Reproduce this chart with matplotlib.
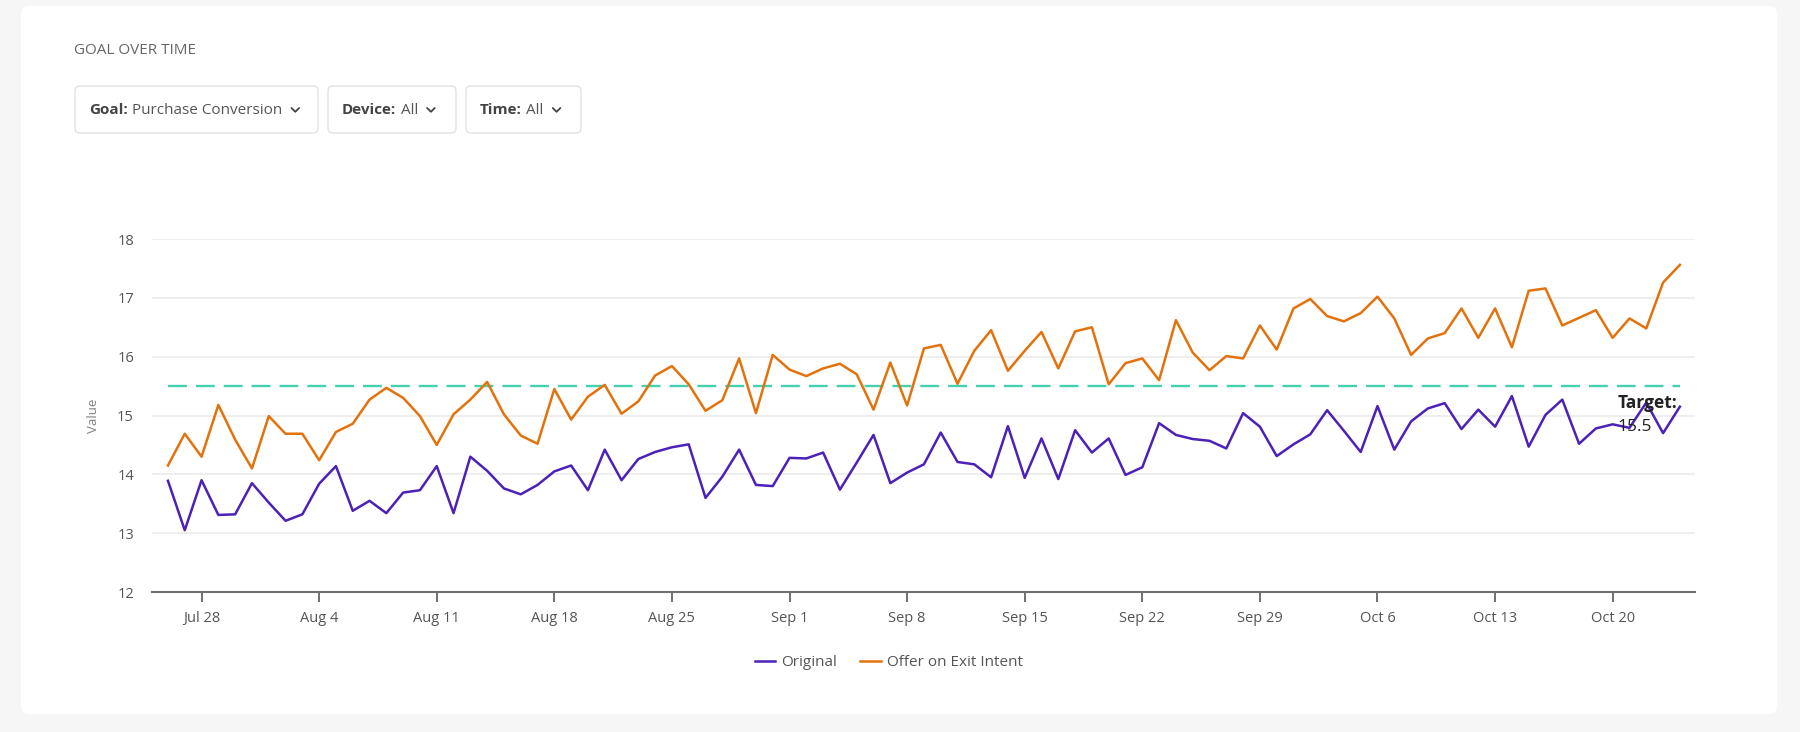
import matplotlib
matplotlib.use("Agg")
import matplotlib.pyplot as plt
import matplotlib.dates as mdates
from matplotlib.patches import FancyBboxPatch
from matplotlib.lines import Line2D
from matplotlib.ticker import FuncFormatter, FixedLocator
import pandas as pd
import numpy as np

plt.rcParams['font.family'] = ['Open Sans', 'DejaVu Sans']

# ---------------- data ----------------
start_date = "2024-07-26"
n_days = 91
original = [13.89, 13.05, 13.90, 13.31, 13.32, 13.85, 13.52, 13.21, 13.32, 13.84,
            14.14, 13.38, 13.55, 13.34, 13.69, 13.73, 14.14, 13.34, 14.30, 14.06,
            13.76, 13.66, 13.82, 14.05, 14.15, 13.73, 14.42, 13.90, 14.26, 14.38,
            14.46, 14.51, 13.60, 13.96, 14.42, 13.82, 13.80, 14.28, 14.27, 14.37,
            13.74, 14.20, 14.67, 13.85, 14.03, 14.17, 14.71, 14.21, 14.17, 13.95,
            14.82, 13.94, 14.61, 13.92, 14.75, 14.37, 14.61, 13.99, 14.12, 14.87,
            14.67, 14.60, 14.57, 14.44, 15.04, 14.81, 14.31, 14.51, 14.68, 15.09,
            14.74, 14.38, 15.16, 14.42, 14.90, 15.12, 15.21, 14.77, 15.10, 14.81,
            15.33, 14.47, 15.01, 15.27, 14.52, 14.78, 14.85, 14.79, 15.22, 14.70,
            15.15]
offer = [14.15, 14.69, 14.30, 15.18, 14.59, 14.10, 14.99, 14.69, 14.69, 14.24,
         14.72, 14.86, 15.27, 15.47, 15.30, 14.99, 14.50, 15.02, 15.27, 15.57,
         15.02, 14.66, 14.52, 15.45, 14.93, 15.32, 15.52, 15.03, 15.24, 15.68,
         15.84, 15.53, 15.08, 15.26, 15.97, 15.04, 16.03, 15.78, 15.67, 15.80,
         15.88, 15.70, 15.10, 15.90, 15.17, 16.14, 16.20, 15.54, 16.10, 16.45,
         15.76, 16.10, 16.42, 15.80, 16.43, 16.50, 15.53, 15.89, 15.97, 15.60,
         16.62, 16.07, 15.77, 16.01, 15.97, 16.53, 16.12, 16.82, 16.98, 16.69,
         16.60, 16.74, 17.02, 16.65, 16.03, 16.31, 16.40, 16.82, 16.32, 16.82,
         16.16, 17.12, 17.16, 16.53, 16.66, 16.79, 16.32, 16.65, 16.48, 17.26,
         17.56]
target = 15.5
series_names = ["Original", "Offer on Exit Intent"]
y_ticks = [12, 13, 14, 15, 16, 17, 18]
filters = [("Goal:", "Purchase Conversion"), ("Device:", "All"), ("Time:", "All")]
title = "GOAL OVER TIME"

dates = pd.date_range(start_date, periods=n_days, freq="D")

# ---------------- figure ----------------
W, H = 1800, 732
DPI = 100
fig = plt.figure(figsize=(W / DPI, H / DPI), dpi=DPI, facecolor="#f6f6f6")
T = fig.dpi_scale_trans  # inches


def inch(x, y):
    """top-left pixel coords -> inches from bottom-left"""
    return x / DPI, (H - y) / DPI


# card
cx0, cy0, cx1, cy1 = 21, 6, 1777, 714
bx, by = inch(cx0, cy1)
card = FancyBboxPatch((bx, by), (cx1 - cx0) / DPI, (cy1 - cy0) / DPI,
                      boxstyle="round,pad=0,rounding_size=0.08",
                      transform=T, facecolor="white", edgecolor="none", zorder=-10)
fig.patches.append(card)

# title
tx, ty = inch(74, 50)
fig.text(tx, ty, title, transform=T, fontsize=11, color="#666666",
         va="center", ha="left")

# filter boxes
boxes = [(75, 318), (328, 456), (466, 581)]
renderer = fig.canvas.get_renderer()
for (x0, x1), (lab, val) in zip(boxes, filters):
    bx, by = inch(x0, 133)
    p = FancyBboxPatch((bx, by), (x1 - x0) / DPI, 47 / DPI,
                       boxstyle="round,pad=0,rounding_size=0.05",
                       transform=T, facecolor="white", edgecolor="#e2e2e2",
                       linewidth=1.0, zorder=-5)
    fig.patches.append(p)
    lx, ly = inch(x0 + 14, 110)
    t1 = fig.text(lx, ly, lab, transform=T, fontsize=11, fontweight="bold",
                  color="#444444", va="center", ha="left")
    bb = t1.get_window_extent(renderer=renderer)
    t2 = fig.text(bb.x1 / DPI + 0.045, ly, val, transform=T, fontsize=11,
                  color="#555555", va="center", ha="left")
    bb2 = t2.get_window_extent(renderer=renderer)
    # chevron
    chx = bb2.x1 + 9
    chy = H - 110
    xs = np.array([chx, chx + 3.8, chx + 7.6]) / DPI
    ys = np.array([chy + 2.0, chy - 1.8, chy + 2.0]) / DPI
    fig.lines.append(Line2D(xs, ys, transform=T, color="#444444", linewidth=1.3,
                            solid_capstyle="round", solid_joinstyle="round"))

# ---------------- axes ----------------
ax_l, ax_r, ax_t, ax_b = 152, 1695, 239, 592
ax = fig.add_axes([ax_l / W, (H - ax_b) / H, (ax_r - ax_l) / W, (ax_b - ax_t) / H])
ax.set_zorder(1)
ax.patch.set_alpha(0)

purple = "#4b21b8"
orange = "#e3720c"
teal = "#43d1b0"

ax.plot(dates, original, color=purple, linewidth=1.8, label=series_names[0], zorder=3)
ax.plot(dates, offer, color=orange, linewidth=1.8, label=series_names[1], zorder=3)
ax.plot([dates[0], dates[-1]], [target, target], color=teal, linewidth=1.7,
        linestyle=(0, (8.0, 3.8)), zorder=2)

d0 = mdates.date2num(dates[0])
ax.set_xlim(d0 - 0.95, d0 + 90.9)
ax.set_ylim(12, 18)
ax.yaxis.set_major_locator(FixedLocator(y_ticks))
ax.grid(axis="y", color="#ebebeb", linewidth=1.2, zorder=0)
ax.set_axisbelow(True)

ax.xaxis.set_major_locator(mdates.WeekdayLocator(byweekday=mdates.SU))
ax.xaxis.set_major_formatter(FuncFormatter(
    lambda v, p: f"{mdates.num2date(v):%b} {mdates.num2date(v).day}"))

for s in ["top", "right", "left"]:
    ax.spines[s].set_visible(False)
ax.spines["bottom"].set_color("#707070")
ax.spines["bottom"].set_linewidth(1.5)
ax.tick_params(axis="x", length=7.5, width=1.4, color="#707070", pad=6,
               labelsize=10.5, labelcolor="#555555")
ax.tick_params(axis="y", length=0, pad=13, labelsize=10.5, labelcolor="#555555")

ax.set_ylabel("Value", fontsize=9.5, color="#808080")
ax.yaxis.set_label_coords(-52 / (ax_r - ax_l), 0.5)

# target annotation
ax.text(0.950, 0.535, "Target:", transform=ax.transAxes, fontsize=12.5,
        fontweight="bold", color="#222222", va="center", ha="left", zorder=5)
ax.text(0.950, 0.467, f"{target}", transform=ax.transAxes, fontsize=12.5,
        color="#222222", va="center", ha="left", zorder=5)

# legend
fig.legend(loc="center", bbox_to_anchor=(889 / W, (H - 663) / H), ncol=2,
           frameon=False, fontsize=11, handlelength=1.35, handletextpad=0.4,
           columnspacing=1.5, labelcolor="#555555")

fig.savefig("out.png", dpi=DPI, facecolor=fig.get_facecolor())
